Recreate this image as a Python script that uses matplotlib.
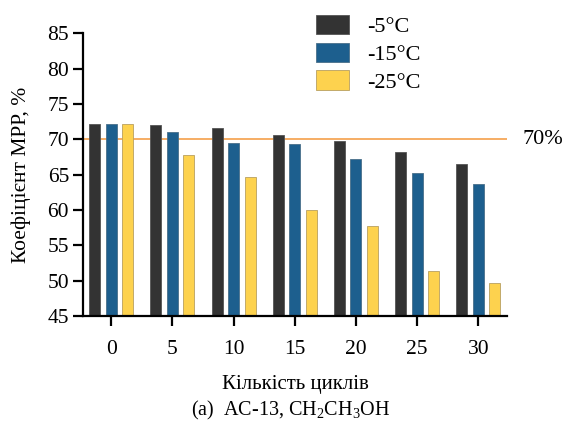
import numpy as np
import matplotlib
matplotlib.use('Agg')
import matplotlib.pyplot as plt

plt.rcParams['font.family'] = ['Liberation Serif', 'DejaVu Serif']
plt.rcParams['mathtext.default'] = 'regular'

cycles = ['0', '5', '10', '15', '20', '25', '30']
minus5 = [72.2, 72.0, 71.6, 70.6, 69.7, 68.2, 66.5]
minus15 = [72.2, 71.0, 69.5, 69.3, 67.2, 65.2, 63.7]
minus25 = [72.2, 67.8, 64.6, 60.0, 57.8, 51.4, 49.7]
series_names = ['-5°C', '-15°C', '-25°C']
colors = ['#333333', '#1d5f8e', '#fdd24e']
edges = ['#555555', '#4a6f8a', '#b8a060']

fig = plt.figure(figsize=(5.67, 4.33), dpi=100)
ax = fig.add_axes([0.1464, 0.2702, 0.748, 0.653])

x = np.arange(len(cycles))
w = 0.18
off = 0.27
for i, vals in enumerate([minus5, minus15, minus25]):
    ax.bar(x + (i - 1) * off, np.array(vals) - 45, w, bottom=45,
           color=colors[i], edgecolor=edges[i], linewidth=0.6,
           label=series_names[i], zorder=2)

# 70% threshold line
ax.axhline(70, color='#f5a04a', linewidth=1.2, zorder=1)
ax.text(1.037, 70, '70%', transform=ax.get_yaxis_transform(),
        va='center', ha='left', fontsize=16)

ax.set_xlim(-0.46, 6.47)
ax.set_ylim(45, 85)
ax.set_yticks(np.arange(45, 86, 5))
ax.set_xticks(x)
ax.set_xticklabels(cycles)
for s in ['top', 'right']:
    ax.spines[s].set_visible(False)
for s in ['left', 'bottom']:
    ax.spines[s].set_linewidth(1.6)
ax.tick_params(length=7.5, width=1.6, labelsize=15.5)
ax.tick_params(axis='x', pad=10)
ax.tick_params(axis='y', pad=2.5)

ax.set_ylabel('Коефіцієнт МРР, %', fontsize=15.5, labelpad=12)
ax.set_xlabel('Кількість циклів', fontsize=15, labelpad=11)
fig.text(0.513, 0.053, '(a)  AC-13, CH$_2$CH$_3$OH', ha='center', va='center', fontsize=14.5)

ax.legend(loc='upper left', bbox_to_anchor=(0.522, 1.012), bbox_transform=fig.transFigure,
          frameon=False, handlelength=1.5, handleheight=0.95, labelspacing=0.25,
          handletextpad=0.8, fontsize=16)

fig.savefig('out.png', dpi=100)
